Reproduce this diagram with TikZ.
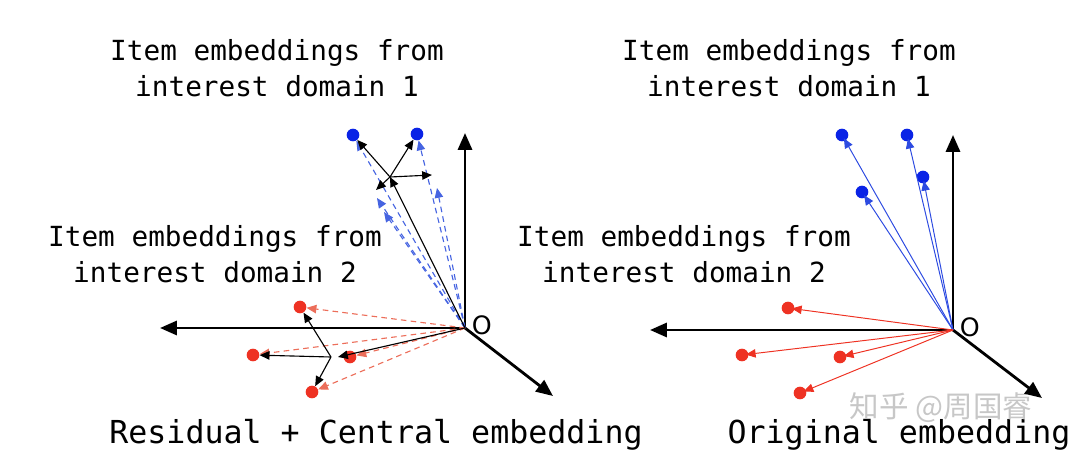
\documentclass[tikz,border=0pt]{standalone}
\usepackage{fontspec}
\setmonofont{DejaVu Sans Mono}
\newfontfamily\ofont{DejaVu Sans}
\newfontfamily\cjkfont{Noto Sans CJK SC}
\usetikzlibrary{arrows.meta}

\definecolor{ptblue}{RGB}{10,35,230}
\definecolor{linblue}{RGB}{45,75,225}
\definecolor{ptred}{RGB}{238,50,35}
\definecolor{dashred}{RGB}{236,110,90}
\definecolor{dashblue}{RGB}{70,100,225}

\tikzset{
	axis/.style={line width=2pt,-{Triangle[length=12pt,width=10pt]}},
	resid/.style={line width=0.8pt,-{Triangle[length=7pt,width=6pt]}},
	orig/.style={line width=0.7pt,draw=#1,shorten >=-2pt,-{Triangle[length=7pt,width=6pt]}},
	dashvec/.style={line width=0.8pt,draw=#1,dash pattern=on 4pt off 3pt,-{Triangle[length=7pt,width=6pt]}},
	pt/.style={circle,fill=#1,inner sep=0pt,minimum size=9pt},
	lbl/.style={font=\ttfamily\fontsize{19.7}{25.6}\selectfont,align=center},
	captxt/.style={font=\ttfamily\fontsize{22.5}{27}\selectfont},
	olbl/.style={font=\ofont\fontsize{18}{20}\selectfont,right}
}

\begin{document}
\begin{tikzpicture}[x=0.025cm,y=-0.025cm]
	
	\useasboundingbox (0,0) rectangle (1080,459);
	
	\node[lbl] (t1) at (277,68) {Item embeddings from\\interest domain 1};
	\node[lbl] (t2) at (215,254) {Item embeddings from\\interest domain 2};
	\node[lbl] (t3) at (789,68) {Item embeddings from\\interest domain 1};
	\node[lbl] (t4) at (684,254) {Item embeddings from\\interest domain 2};
	\node[captxt] (c1) at (376,435) {Residual + Central embedding};
	\node[captxt] (c2) at (899,435) {Original embedding};
	\node[text=black!22,font=\cjkfont\fontsize{21}{24}\selectfont] (wm) at (941,408) {知乎 @周国睿};
	
	\coordinate (oL) at (465,328);
	\coordinate (upL) at (465,133);
	\coordinate (leftL) at (160,328);
	\coordinate (diagL) at (553,396);
	\draw[axis] (oL) -- (upL);
	\draw[axis] (oL) -- (leftL);
	\draw[axis] (oL) -- (diagL);
	\node[olbl] (oLlbl) at (467,325) {O};
	
	\node[pt=ptblue] (bL1) at (353,135) {};
	\node[pt=ptblue] (bL2) at (417,134) {};
	\coordinate (bL3) at (437,188);
	\coordinate (bL4) at (377,198);
	\coordinate (bL5) at (384,212);
	\foreach \p in {bL1,bL2,bL3,bL4,bL5}
		\draw[dashvec=dashblue] (oL) -- (\p);
	
	\node[pt=ptred] (rL1) at (300,307) {};
	\node[pt=ptred] (rL2) at (253,355) {};
	\node[pt=ptred] (rL3) at (350,357) {};
	\node[pt=ptred] (rL4) at (312,392) {};
	\foreach \p in {rL1,rL2,rL3,rL4}
		\draw[dashvec=dashred] (oL) -- (\p);
	
	\coordinate (cB) at (390,177);
	\coordinate (cBr) at (432,175);
	\coordinate (cBl) at (376,190);
	\draw[resid] (oL) -- (cB);
	\draw[resid] (cB) -- (bL1);
	\draw[resid] (cB) -- (bL2);
	\draw[resid] (cB) -- (cBr);
	\draw[resid] (cB) -- (cBl);
	
	\coordinate (cR) at (331,357);
	\coordinate (cRt) at (338,357);
	\draw[resid] (oL) -- (cRt);
	\draw[resid] (cR) -- (rL1);
	\draw[resid] (cR) -- (rL2);
	\draw[resid] (cR) -- (rL4);
	
	\coordinate (oR) at (953,330);
	\coordinate (upR) at (953,135);
	\coordinate (leftR) at (650,330);
	\coordinate (diagR) at (1042,398);
	\draw[axis] (oR) -- (upR);
	\draw[axis] (oR) -- (leftR);
	\draw[axis] (oR) -- (diagR);
	\node[olbl] (oRlbl) at (955,327) {O};
	
	\node[pt=ptblue] (bR1) at (842,135) {};
	\node[pt=ptblue] (bR2) at (907,135) {};
	\node[pt=ptblue] (bR3) at (923,177) {};
	\node[pt=ptblue] (bR4) at (862,192) {};
	\foreach \p in {bR1,bR2,bR3,bR4}
		\draw[orig=linblue] (oR) -- (\p);
	
	\node[pt=ptred] (rR1) at (788,308) {};
	\node[pt=ptred] (rR2) at (742,355) {};
	\node[pt=ptred] (rR3) at (840,357) {};
	\node[pt=ptred] (rR4) at (800,393) {};
	\foreach \p in {rR1,rR2,rR3,rR4}
		\draw[orig=ptred] (oR) -- (\p);
	
\end{tikzpicture}
\end{document}
